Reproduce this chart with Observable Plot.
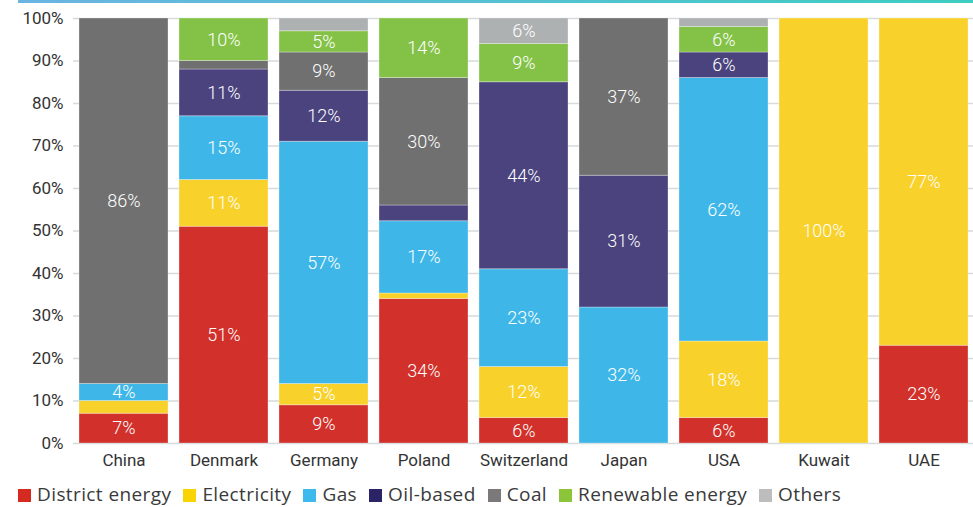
<!DOCTYPE html>
<html>
<head>
<meta charset="utf-8">
<script src="https://cdn.jsdelivr.net/npm/d3@7"></script>
<script src="https://cdn.jsdelivr.net/npm/@observablehq/plot@0.6"></script>
<style>
  body { margin: 0; background: #fff; width: 973px; height: 507px; overflow: hidden; position: relative; }
  #topline { position: absolute; left: 18px; top: 0; width: 955px; height: 3px;
             background: linear-gradient(to right, #6bb4e2, #3ecdc1); }
  #chart { position: absolute; left: 0; top: 0; }
  #legend { position: absolute; left: 18px; top: 485px; display: flex; align-items: center;
            font-family: "Open Sans", "Noto Sans", sans-serif; font-size: 19px; line-height: 19px;
            letter-spacing: 0.4px; color: #3a3a3a; white-space: nowrap; }
  #legend .item { display: flex; align-items: center; margin-right: 12px; }
  #legend .sw { width: 13px; height: 13px; margin-right: 6px; margin-top: 2px; }
</style>
</head>
<body>
<div id="chart"></div>
<div id="topline"></div>
<div id="legend"></div>
<script>
// Heating source shares by country (% of total)
const countries = ["China", "Denmark", "Germany", "Poland", "Switzerland", "Japan", "USA", "Kuwait", "UAE"];
const series = ["District energy", "Electricity", "Gas", "Oil-based", "Coal", "Renewable energy", "Others"];

const districtEnergy = [7, 51, 9, 34, 6, 0, 6, 0, 23];
const electricity    = [3, 11, 5, 1.3, 12, 0, 18, 100, 77];
const gas            = [4, 15, 57, 17, 23, 32, 62, 0, 0];
const oilBased       = [0, 11, 12, 3.7, 44, 31, 6, 0, 0];
const coal           = [86, 2, 9, 30, 0, 37, 0, 0, 0];
const renewable      = [0, 10, 5, 14, 9, 0, 6, 0, 0];
const others         = [0, 0, 3, 0, 6, 0, 2, 0, 0];

const yTicks = [0, 10, 20, 30, 40, 50, 60, 70, 80, 90, 100];

const barColors    = ["#d2302a", "#f8d12b", "#3eb7e8", "#4b437e", "#707070", "#84c247", "#aeb1b2"];
const legendColors = ["#d42a1f", "#fad400", "#3db9eb", "#2a2466", "#7b7979", "#8cc43a", "#bdbdbd"];

const seriesValues = [districtEnergy, electricity, gas, oilBased, coal, renewable, others];

// long-format rows, stacked bottom-up in series order
const rows = [];
series.forEach((s, i) => {
  countries.forEach((c, j) => {
    const v = seriesValues[i][j];
    if (v > 0) rows.push({country: c, series: s, value: v});
  });
});

const chart = Plot.plot({
  width: 973,
  height: 478,
  marginTop: 18,
  marginBottom: 35,
  marginLeft: 73,
  marginRight: 0,
  style: {
    fontFamily: "Roboto, 'Liberation Sans', sans-serif",
    fontSize: "17px",
    fontWeight: 400,
    color: "#333",
    background: "transparent"
  },
  x: {domain: countries, paddingInner: 0.11, paddingOuter: 0.043, label: null, tickSize: 0, tickPadding: 10},
  y: {domain: [0, 100], ticks: yTicks, tickFormat: d => d + "%", label: null, tickSize: 0, tickPadding: 10},
  color: {domain: series, range: barColors},
  marks: [
    Plot.ruleY(yTicks, {stroke: "#d6dada", strokeWidth: 1.6}),
    Plot.barY(rows, {
      x: "country", y: "value", fill: "series", order: series,
      stroke: "#ffffff", strokeOpacity: 0.3, strokeWidth: 1
    }),
    Plot.text(rows, Plot.stackY({
      x: "country", y: "value", z: "series", order: series,
      text: d => d.value >= 4 ? d.value + "%" : "",
      fill: "white", fontSize: 18, fontWeight: 300
    }))
  ]
});
document.getElementById("chart").appendChild(chart);

// legend below the chart
const legend = document.getElementById("legend");
series.forEach((s, i) => {
  const item = document.createElement("div");
  item.className = "item";
  const sw = document.createElement("span");
  sw.className = "sw";
  sw.style.background = legendColors[i];
  const label = document.createElement("span");
  label.textContent = s;
  item.appendChild(sw);
  item.appendChild(label);
  legend.appendChild(item);
});
</script>
</body>
</html>
